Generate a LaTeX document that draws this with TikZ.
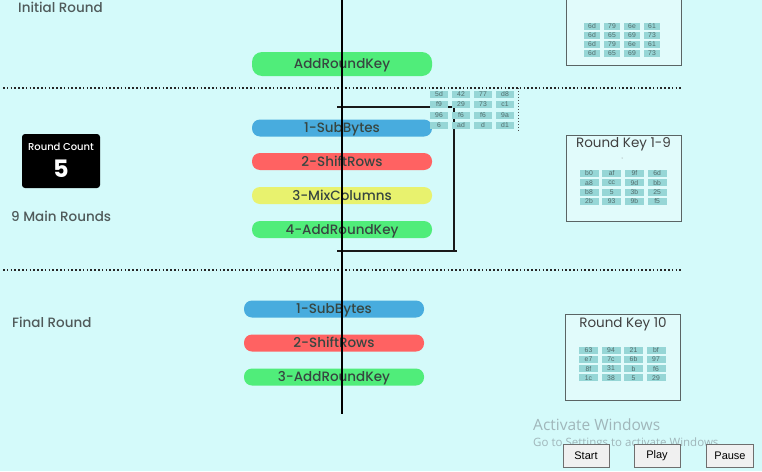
\documentclass[tikz,border=0pt]{standalone}
\usepackage{fontspec}
\setmainfont{Poppins}[UprightFont={* Medium},BoldFont={* Bold}]
\newfontfamily\regfont{Poppins}
\newfontfamily\uifont{Liberation Sans}
\newfontfamily\winfont{Open Sans}
\definecolor{bg}{RGB}{212,250,250}
\definecolor{pgreen}{RGB}{80,237,122}
\definecolor{pblue}{RGB}{72,172,222}
\definecolor{pred}{RGB}{255,98,98}
\definecolor{pyellow}{RGB}{232,242,110}
\definecolor{cellc}{RGB}{150,214,214}
\definecolor{celltxt}{RGB}{80,105,105}
\definecolor{lbl}{RGB}{80,90,90}
\definecolor{pilltxt}{RGB}{55,70,65}
\definecolor{boxline}{RGB}{90,100,100}
\definecolor{wmark}{RGB}{160,182,186}
\definecolor{btnfill}{RGB}{240,240,240}
\definecolor{btnline}{RGB}{110,110,110}
\newcommand\mygrid[7]{%
  \foreach \row [count=\r] in {#7} {
    \foreach \v [count=\c] in \row {
      \node[cellbox, minimum width=#6] (#1-\r-\c) at ({#2+(\c-1)*#3},{#4+(\r-1)*#5}) {\v};
    }}}
\begin{document}
\begin{tikzpicture}[x=1pt,y=-1pt,
  pill/.style={rounded corners=8pt, minimum width=180pt, minimum height=17pt, inner sep=0pt,
    font=\fontsize{13.5}{13.5}\selectfont, text=pilltxt, text height=9.3pt, text depth=0pt},
  cellbox/.style={fill=cellc, minimum height=7pt, inner sep=0pt,
    font=\uifont\fontsize{6.8}{6.8}\selectfont, text=celltxt},
  keybox/.style={draw=boxline, line width=1pt, fill=bg!70!white, minimum width=115pt, minimum height=86pt, inner sep=0pt},
  keytitle/.style={font=\regfont\fontsize{13.5}{13.5}\selectfont, text=black!75, inner sep=0pt},
  sep/.style={draw=black!85, line width=1.8pt, dash pattern=on 1.6pt off 2.2pt},
  mainline/.style={draw=black, line width=1.4pt},
  bracket/.style={draw=black!90, line width=1.3pt},
  lbltext/.style={font=\fontsize{13.5}{13.5}\selectfont, text=lbl, inner sep=0pt, anchor=west},
  btn/.style={draw=btnline, fill=btnfill, line width=0.8pt, minimum width=46pt, minimum height=23pt, inner sep=0pt,
    font=\uifont\fontsize{11}{11}\selectfont, text=black}]
\useasboundingbox (0,0) rectangle (762,471);
\fill[bg] (0,0) rectangle (762,471);

% section separators
\coordinate (s1a) at (3,88); \coordinate (s1b) at (683,88);
\coordinate (s2a) at (3,270); \coordinate (s2b) at (683,270);
\draw[sep] (s1a) -- (s1b);
\draw[sep] (s2a) -- (s2b);

% labels
\node[lbltext] (linit) at (18,7) {Initial Round};
\node[lbltext] (lmain) at (11,216) {9 Main Rounds};
\node[lbltext] (lfinal) at (12,322) {Final Round};

% round count
\node[fill=black, rounded corners=3pt, minimum width=78pt, minimum height=54pt, inner sep=0pt] (rc) at (61,161) {};
\node[text=white, font=\fontsize{10}{10}\selectfont, inner sep=0pt] (rct) at (61,147) {Round Count};
\node[text=white, font=\bfseries\fontsize{24}{24}\selectfont, inner sep=0pt] (rcn) at (61,169) {5};

% bracket lines
\coordinate (b1) at (337,107); \coordinate (b2) at (454,107);
\coordinate (b3) at (454,251); \coordinate (b4) at (337,251); \coordinate (b5) at (457,251);
\draw[bracket] (b1) -- (b2) -- (b3);
\draw[bracket] (b4) -- (b5);
\coordinate (m1) at (518,88); \coordinate (m2) at (518,131);
\draw[draw=black!70, line width=0.9pt, dash pattern=on 1pt off 2pt] (m1) -- (m2);

% pills
\node[pill, fill=pgreen, minimum height=24pt, rounded corners=10pt] (ark0) at (342,64) {AddRoundKey};
\node[pill, fill=pblue] (sb1) at (342,128) {1-SubBytes};
\node[pill, fill=pred] (sr1) at (342,161.5) {2-ShiftRows};
\node[pill, fill=pyellow] (mc1) at (342,195.5) {3-MixColumns};
\node[pill, fill=pgreen] (ark1) at (342,229.5) {4-AddRoundKey};
\node[pill, fill=pblue] (sb2) at (334,309) {1-SubBytes};
\node[pill, fill=pred] (sr2) at (334,343) {2-ShiftRows};
\node[pill, fill=pgreen] (ark2) at (334,377) {3-AddRoundKey};

% main line
\coordinate (ltop) at (342,0); \coordinate (lbot) at (342,414);
\draw[mainline] (ltop) -- (lbot);

% state matrix
\mygrid{st}{439}{22}{94}{10.5}{18pt}{{5d,42,77,d8},{f9,29,73,c1},{96,f6,f6,9a},{6,ad,d,d1}}

% key boxes
\node[keybox, minimum height=72pt] (k0) at (624,29) {};
\mygrid{k0c}{592}{20}{26}{9}{16pt}{{6d,79,6e,61},{6d,65,69,73},{6d,79,6e,61},{6d,65,69,73}}

\node[keybox] (k19) at (623.5,178) {};
\node[keytitle] (k19t) at (623.5,144) {Round Key 1-9};
\node[circle, fill=black!50, inner sep=0.35pt] (k19d) at (622,158) {};
\mygrid{k19c}{589}{22.7}{173.5}{9.3}{19pt}{{b0,af,9f,6d},{a8,cc,9d,bb},{b8,5,3b,25},{2b,93,9b,f5}}

\node[keybox] (k10) at (623,357) {};
\node[keytitle] (k10t) at (623,324) {Round Key 10};
\mygrid{k10c}{588.5}{22.5}{350}{9.3}{19pt}{{63,94,21,bf},{e7,7c,6b,97},{8f,31,b,f6},{1c,38,5,29}}

% watermark
\node[text=wmark, font=\winfont\fontsize{15.5}{15.5}\selectfont, inner sep=0pt, anchor=west] (wm1) at (533,425) {Activate Windows};
\node[text=wmark, font=\winfont\fontsize{11.5}{11.5}\selectfont, inner sep=0pt, anchor=west] (wm2) at (533,444) {Go to Settings to activate Windows.};

% buttons
\node[btn] (start) at (586,456) {Start};
\node[btn] (play) at (657,456) {Play};
\node[btn, minimum width=47pt] (pause) at (730,456) {Pause};
\end{tikzpicture}
\end{document}
